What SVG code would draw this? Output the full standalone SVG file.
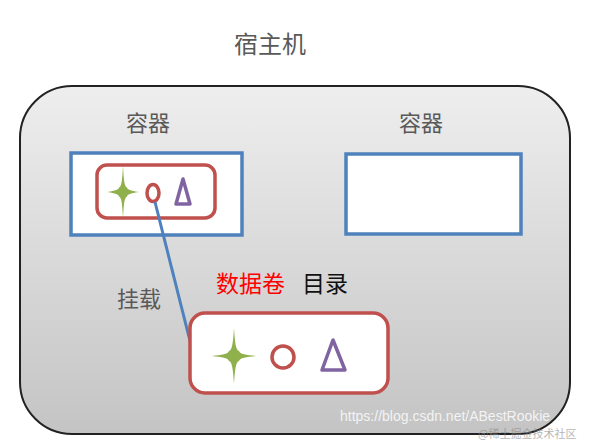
<svg xmlns="http://www.w3.org/2000/svg" width="589" height="442" viewBox="0 0 589 442">
<defs>
<linearGradient id="bg" x1="0" y1="0" x2="0" y2="1">
<stop offset="0" stop-color="#eeeeee"/>
<stop offset="1" stop-color="#c4c4c4"/>
</linearGradient>
<path id="star" d="M0,-28 C1,-12 2,-6 5,-5 C6,-2 12,-1 22,0 C12,1 6,2 5,5 C2,6 1,12 0,28 C-1,12 -2,6 -5,5 C-6,2 -12,1 -22,0 C-12,-1 -6,-2 -5,-5 C-2,-6 -1,-12 0,-28 Z"/>
</defs>
<style>
.cn{font-family:"Noto Sans CJK SC","Noto Sans",sans-serif;}
.lbl{fill:#595959;font-size:22px;}
.ctr{fill:#fff;stroke:#4f81bd;stroke-width:3.5;}
.vol{fill:#fff;stroke:#c0504d;stroke-width:3.5;}
.star{fill:#8fb04a;}
.circ{fill:none;stroke:#c0504d;stroke-width:3.5;}
.tri{fill:none;stroke:#8064a2;stroke-width:3.5;stroke-linejoin:round;}
.wm{font-family:"Liberation Sans",sans-serif;fill:#ffffff;opacity:0.8;}
</style>
<rect width="589" height="442" fill="#ffffff"/>
<text class="cn" x="270" y="53" text-anchor="middle" font-size="24" fill="#595959">宿主机</text>
<g id="host">
<rect x="20" y="86" width="550" height="348" rx="52" fill="url(#bg)" stroke="#222" stroke-width="2"/>
</g>
<g id="container1">
<text class="cn lbl" x="148" y="131" text-anchor="middle">容器</text>
<rect class="ctr" x="71" y="153" width="171" height="82"/>
<rect class="vol" x="97" y="165" width="118" height="53" rx="10"/>
<use href="#star" class="star" transform="translate(123,192) scale(0.75,0.95)"/>
<ellipse class="circ" cx="153" cy="193" rx="6" ry="8.5"/>
<path class="tri" d="M183,179 L176,204 L190,204 Z"/>
</g>
<g id="container2">
<text class="cn lbl" x="421" y="131" text-anchor="middle">容器</text>
<rect class="ctr" x="346" y="154" width="175" height="80"/>
</g>
<g id="connectors">
<line x1="155" y1="202" x2="190" y2="341" stroke="#4f81bd" stroke-width="3"/>
</g>
<text class="cn lbl" x="139" y="307" text-anchor="middle">挂载</text>
<g id="volume">
<text class="cn" x="216" y="292" font-size="23" fill="#ff0000">数据卷</text>
<text class="cn" x="302" y="292" font-size="23" fill="#111">目录</text>
<rect class="vol" x="190" y="313" width="198" height="80" rx="15"/>
<use href="#star" class="star" transform="translate(234,356)"/>
<circle class="circ" cx="283" cy="357" r="11"/>
<path class="tri" d="M333,340 L322,370 L345,370 Z"/>
</g>
<text class="wm" x="340" y="421" font-size="14">https://blog.csdn.net/ABestRookie</text>
<text class="cn" x="478" y="438" font-size="11" fill="#888" opacity="0.6">@稀土掘金技术社区</text>
</svg>
